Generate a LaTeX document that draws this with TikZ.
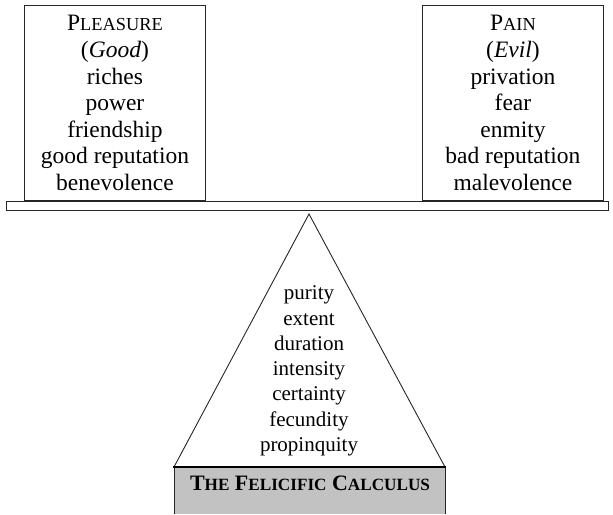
\documentclass[tikz,border=0pt]{standalone}
\usepackage{fontspec}
\setmainfont{Liberation Serif}
% hand-made small capitals: large initial, reduced upper-case rest
\newcommand{\capsword}[2]{#1{\fontsize{0.78\dimexpr\fontdimen6\font\relax}{0}\selectfont #2}}
\begin{document}
\begin{tikzpicture}[x=1pt,y=1pt,
  line/.style={draw=black!85, line width=0.9pt},
  listbox/.style={line, fill=white, align=center, inner sep=0pt,
    font=\fontsize{23.5}{26.6}\selectfont},
  listtext/.style={align=center, inner sep=0pt,
    font=\fontsize{21}{25.3}\selectfont}]
\useasboundingbox (0,0) rectangle (613,514);

% the balance beam
\draw[line] (6,304) rectangle (608,313);

% the two scale pans
\node[listbox, minimum width=181, minimum height=195, anchor=south west]
  (pleasure) at (24,313) {\capsword{P}{LEASURE}\\(\textit{Good})\\riches\\power\\friendship\\good reputation\\benevolence};
\node[listbox, minimum width=181, minimum height=195, anchor=south west]
  (pain) at (422,313) {\capsword{P}{AIN}\\(\textit{Evil})\\privation\\fear\\enmity\\bad reputation\\malevolence};

% the fulcrum
\coordinate (apex) at (309,300);
\coordinate (bl) at (174,47);
\coordinate (br) at (445,47);
\draw[line] (bl) -- (apex) -- (br);
\node[listtext] (criteria) at (309,143)
  {purity\\extent\\duration\\intensity\\certainty\\fecundity\\propinquity};

% the base
\fill[black!24] (174,0) rectangle (445,47);
\draw[line] (174,0) -- (174,47);
\draw[line] (445,0) -- (445,47);
\draw[draw=black, line width=2pt] (173,47) -- (446,47);
\node[font=\fontsize{22}{24}\selectfont\bfseries, inner sep=0pt]
  (calculus) at (310,31) {\capsword{T}{HE} \capsword{F}{ELICIFIC} \capsword{C}{ALCULUS}};
\end{tikzpicture}
\end{document}
